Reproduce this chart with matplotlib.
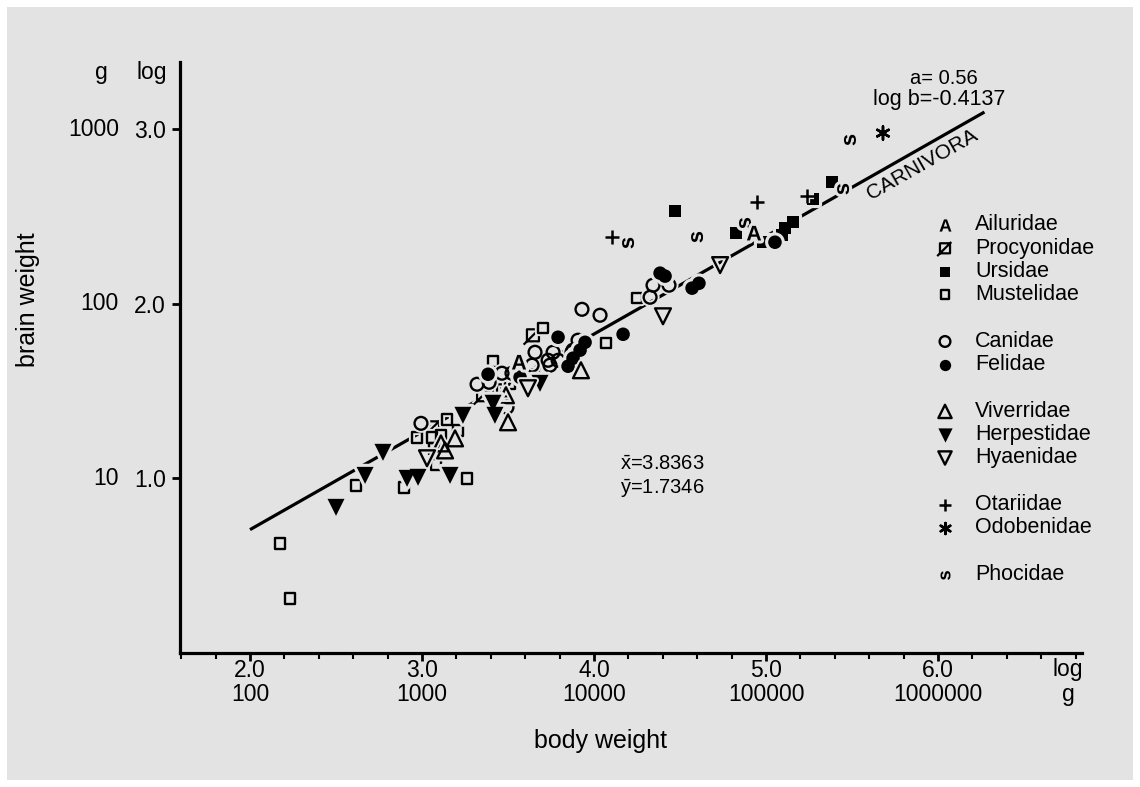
import matplotlib
matplotlib.use("Agg")
import matplotlib.pyplot as plt
import matplotlib.patheffects as pe
from matplotlib.path import Path
from matplotlib.markers import MarkerStyle
from matplotlib.transforms import Affine2D
from matplotlib.patches import Rectangle
from matplotlib.ticker import MultipleLocator, FixedLocator, FixedFormatter

plt.rcParams['font.family'] = ['Liberation Sans', 'DejaVu Sans']
plt.rcParams['mathtext.fontset'] = 'custom'
plt.rcParams['mathtext.rm'] = 'Liberation Sans'
plt.rcParams['mathtext.it'] = 'Liberation Sans:italic'
plt.rcParams['mathtext.bf'] = 'Liberation Sans:bold'

BG = '#e3e3e3'

# log body weight (x), log brain weight (y) per family
ailuridae_x = [3.564, 4.930]
ailuridae_y = [1.665, 2.404]

procyonidae_x = [3.064, 3.355, 3.471, 3.645, 3.645]
procyonidae_y = [1.292, 1.476, 1.504, 1.590, 1.819]

ursidae_x = [4.471, 4.826, 4.983, 5.041, 5.093, 5.110, 5.157, 5.273, 5.384]
ursidae_y = [2.530, 2.404, 2.352, 2.352, 2.393, 2.433, 2.467, 2.599, 2.696]

mustelidae_x = [2.174, 2.233, 2.616, 2.895, 3.262, 2.971, 3.058, 3.110, 3.145,
                3.209, 3.070, 3.081, 3.413, 3.512, 3.703, 4.070, 4.250]
mustelidae_y = [0.627, 0.312, 0.960, 0.948, 1.000, 1.235, 1.235, 1.246, 1.338,
                1.275, 1.172, 1.080, 1.670, 1.544, 1.860, 1.774, 2.032]

canidae_x = [2.994, 3.320, 3.390, 3.465, 3.523, 3.494, 3.640, 3.657, 3.762, 3.733,
             3.791, 3.744, 3.872, 3.907, 3.878, 3.930, 4.035, 4.326, 4.343, 4.436]
canidae_y = [1.315, 1.539, 1.550, 1.602, 1.602, 1.407, 1.648, 1.722, 1.722, 1.676,
             1.676, 1.648, 1.722, 1.791, 1.734, 1.968, 1.934, 2.037, 2.106, 2.106]

felidae_x = [3.384, 3.570, 3.791, 3.919, 3.948, 3.878, 3.849, 4.169, 4.384, 4.413,
             4.570, 4.610, 5.052]
felidae_y = [1.596, 1.579, 1.808, 1.734, 1.779, 1.688, 1.642, 1.825, 2.175, 2.158,
             2.089, 2.117, 2.352]

viverridae_x = [3.192, 3.134, 3.110, 3.488, 3.500, 3.924]
viverridae_y = [1.229, 1.160, 1.200, 1.476, 1.321, 1.619]

herpestidae_x = [2.500, 2.669, 2.773, 2.913, 2.977, 3.163, 3.238, 3.424, 3.413, 3.686]
herpestidae_y = [0.834, 1.017, 1.149, 1.000, 1.006, 1.017, 1.361, 1.361, 1.430, 1.544]

hyaenidae_x = [3.029, 3.616, 4.401, 4.733]
hyaenidae_y = [1.115, 1.516, 1.928, 2.221]

otariidae_x = [4.105, 4.948, 5.238]
otariidae_y = [2.381, 2.582, 2.616]

odobenidae_x = [5.680]
odobenidae_y = [2.977]

phocidae_x = [4.198, 4.599, 4.878, 5.448, 5.488]
phocidae_y = [2.347, 2.381, 2.461, 2.656, 2.937]

# regression line
slope_a = 0.56
log_b = -0.4137
line_x = [2.0, 6.27]
mean_x = 3.8363
mean_y = 1.7346

x_ticks = [2, 3, 4, 5, 6]
x_tick_labels = ['2.0\n100', '3.0\n1000', '4.0\n10000', '5.0\n100000', '6.0\n1000000']
y_ticks = [1, 2, 3]
y_log_labels = ['1.0', '2.0', '3.0']
y_g_labels = ['10', '100', '1000']

# markers
proc_path = Path([(-1, -1), (1, -1), (1, 1), (-1, 1), (-1, -1), (-1.55, -1.55), (1.25, 1.25)],
                 [Path.MOVETO, Path.LINETO, Path.LINETO, Path.LINETO, Path.CLOSEPOLY,
                  Path.MOVETO, Path.LINETO])
phoc_marker = MarkerStyle(r'$\mathbf{s}$', transform=Affine2D().rotate_deg(90))

halo = [pe.Stroke(linewidth=4.5, foreground=BG), pe.Normal()]

families = [
    ('Ailuridae', ailuridae_x, ailuridae_y, dict(marker=r'$\mathbf{A}$', s=110, c='k', linewidths=0)),
    ('Procyonidae', procyonidae_x, procyonidae_y, dict(marker=proc_path, s=180, facecolors='none', edgecolors='k', linewidths=1.6)),
    ('Ursidae', ursidae_x, ursidae_y, dict(marker='s', s=80, c='k', linewidths=0)),
    ('Mustelidae', mustelidae_x, mustelidae_y, dict(marker='s', s=58, facecolors='none', edgecolors='k', linewidths=1.7)),
    ('Canidae', canidae_x, canidae_y, dict(marker='o', s=85, facecolors='none', edgecolors='k', linewidths=1.7)),
    ('Felidae', felidae_x, felidae_y, dict(marker='o', s=95, c='k', linewidths=0)),
    ('Viverridae', viverridae_x, viverridae_y, dict(marker='^', s=130, facecolors='none', edgecolors='k', linewidths=1.7)),
    ('Herpestidae', herpestidae_x, herpestidae_y, dict(marker='v', s=150, c='k', linewidths=0)),
    ('Hyaenidae', hyaenidae_x, hyaenidae_y, dict(marker='v', s=130, facecolors='none', edgecolors='k', linewidths=1.7)),
    ('Otariidae', otariidae_x, otariidae_y, dict(marker='+', s=100, c='k', linewidths=1.8)),
    ('Odobenidae', odobenidae_x, odobenidae_y, dict(marker=(6, 2, 0), s=90, c='k', linewidths=1.8)),
    ('Phocidae', phocidae_x, phocidae_y, dict(marker=phoc_marker, s=75, c='k', linewidths=0)),
]
legend_rows = [0, 1, 2, 3, 5, 6, 8, 9, 10, 12, 13, 15]
# letter markers go on top so the halos of neighbours do not hide them
draw_order = [1, 2, 3, 4, 5, 6, 7, 8, 9, 10, 11, 0]

fig = plt.figure(figsize=(11.4, 7.87), dpi=100, facecolor='white')
fig.patches.append(Rectangle((7 / 1140, 7 / 787), 1126 / 1140, 773 / 787,
                             transform=fig.transFigure, facecolor=BG, edgecolor='none', zorder=-10))
ax = fig.add_axes([180 / 1140, 1 - 653 / 787, 902 / 1140, 591 / 787])
ax.set_facecolor('none')


def axpos(px, py):
    return (px - 180) / 902, (653 - py) / 591


line_y = [slope_a * v + log_b for v in line_x]
ax.plot(line_x, line_y, color='k', lw=2.3, solid_capstyle='butt', zorder=2)

for i in draw_order:
    name, xs, ys, kw = families[i]
    sc = ax.scatter(xs, ys, zorder=3, clip_on=False, **kw)
    sc.set_path_effects(halo)

# legend drawn by hand to keep the grouped spacing
for (name, xs, ys, kw), row in zip(families, legend_rows):
    py = 225 + row * 23.3
    lx, ly = axpos(945, py)
    kw2 = dict(kw)
    kw2['s'] = kw['s'] * 0.7
    ax.scatter([lx], [ly], transform=ax.transAxes, clip_on=False, zorder=3, **kw2)
    tx, ty = axpos(975, py)
    ax.text(tx, ty, name, transform=ax.transAxes, fontsize=15.5, ha='left', va='center')

ax.set_xlim(1.593, 6.837)
ax.set_ylim(0.0, 3.384)

for side in ['top', 'right']:
    ax.spines[side].set_visible(False)
for side in ['left', 'bottom']:
    ax.spines[side].set_linewidth(2.3)

ax.xaxis.set_major_locator(FixedLocator(x_ticks))
ax.xaxis.set_major_formatter(FixedFormatter(x_tick_labels))
ax.xaxis.set_minor_locator(MultipleLocator(0.2))
ax.yaxis.set_major_locator(FixedLocator(y_ticks))
ax.yaxis.set_major_formatter(FixedFormatter(y_log_labels))
ax.tick_params(axis='x', which='major', direction='out', length=6, width=2, labelsize=16.5, pad=-2)
ax.tick_params(axis='x', which='minor', direction='out', length=4, width=1.5)
ax.tick_params(axis='y', which='major', direction='out', length=6, width=2, labelsize=16.5, pad=4)
for lab in ax.get_xticklabels():
    lab.set_linespacing(1.1)

for v, g in zip(y_ticks, y_g_labels):
    ax.text(axpos(119, 0)[0], v, g, transform=ax.get_yaxis_transform(),
            fontsize=16.5, ha='right', va='center')

ax.text(*axpos(101, 73), 'g', transform=ax.transAxes, fontsize=16.5, ha='center', va='center')
ax.text(*axpos(152, 73), 'log', transform=ax.transAxes, fontsize=16.5, ha='center', va='center')
ax.text(*axpos(1068, 658), 'log\ng', transform=ax.transAxes, fontsize=16.5, ha='center',
        va='top', linespacing=1.1)

ax.text(*axpos(600, 741), 'body weight', transform=ax.transAxes, fontsize=18, ha='center', va='center')
ax.text(*axpos(28, 300), 'brain weight', transform=ax.transAxes, fontsize=18, ha='center',
        va='center', rotation=90)

ax.text(*axpos(910, 78), 'a= 0.56', transform=ax.transAxes, fontsize=14.5, ha='left', va='center')
ax.text(*axpos(873, 99), 'log b=-0.4137', transform=ax.transAxes, fontsize=15.5, ha='left', va='center')
ax.text(*axpos(620, 465), r'$\bar{\mathrm{x}}$=%.4f' % mean_x, transform=ax.transAxes,
        fontsize=14.5, ha='left', va='center')
ax.text(*axpos(620, 489), r'$\bar{\mathrm{y}}$=%.4f' % mean_y, transform=ax.transAxes,
        fontsize=14.5, ha='left', va='center')
ax.text(*axpos(922, 165), 'CARNIVORA', transform=ax.transAxes, fontsize=15, ha='center',
        va='center', rotation=29.6, rotation_mode='anchor')

fig.savefig('out.png', dpi=100, facecolor='white')
